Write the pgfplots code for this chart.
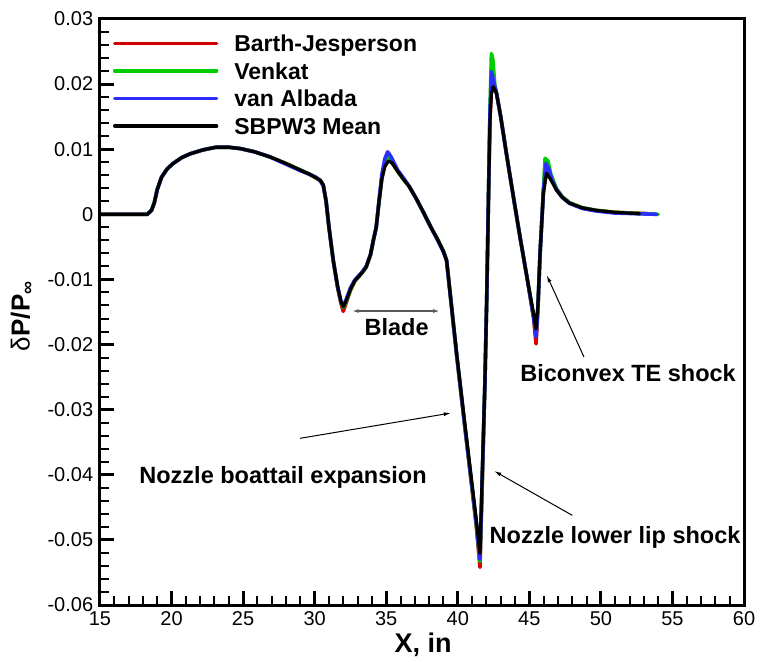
\documentclass[border=0pt]{standalone}
\usepackage{fontspec}
\setmainfont{Liberation Sans}
\usepackage{pgfplots}
\pgfplotsset{compat=1.18}
\usetikzlibrary{arrows.meta}
\definecolor{cred}{RGB}{210,0,0}
\definecolor{cgreen}{RGB}{0,205,0}
\definecolor{cblue}{RGB}{45,45,255}

\pgfplotstableread{
x y
15 0
18.3 0
18.6 0.0006
18.8 0.0018
19.0 0.0038
19.3 0.0057
19.7 0.0070
20.1 0.0078
20.7 0.0087
21.3 0.0093
22.2 0.0099
23.1 0.0103
24.0 0.0103
24.8 0.0101
25.8 0.0096
26.9 0.0088
28.0 0.0078
29.0 0.0068
29.6 0.0062
30.1 0.0056
30.4 0.0052
30.6 0.0045
30.8 0.0020
31.0 -0.0020
31.3 -0.0071
31.6 -0.0112
31.85 -0.0138
32.0 -0.0149
32.2 -0.0136
32.5 -0.0117
32.8 -0.0103
33.3 -0.0090
33.6 -0.0081
33.9 -0.0062
34.1 -0.0040
34.3 -0.0020
34.5 0.0020
34.7 0.0056
34.9 0.0075
35.15 0.0085
35.4 0.0080
35.8 0.0066
36.2 0.0054
36.6 0.0043
37.1 0.0024
37.6 0.0003
38.1 -0.0019
38.6 -0.0039
39.0 -0.0057
39.22 -0.0071
39.92 -0.0216
40.5 -0.0328
41.3 -0.0480
41.55 -0.0542
41.9 -0.0255
42.02 -0.0132
42.15 0.0030
42.25 0.0150
42.35 0.0195
42.45 0.0206
42.7 0.0187
43.0 0.0150
43.4 0.0093
43.9 0.0025
44.35 -0.0035
44.9 -0.0105
45.3 -0.0160
45.47 -0.0199
45.6 -0.0145
45.75 -0.0060
45.98 0.0034
46.2 0.0071
46.45 0.0058
46.9 0.0039
47.3 0.0027
47.8 0.0018
48.7 0.0010
49.7 0.0006
51.0 0.0003
53.3 0.0001
}\redtab

\pgfplotstableread{
x y
15 0
18.3 0
18.6 0.0007
18.8 0.0019
19.0 0.0039
19.3 0.0057
19.7 0.0070
20.1 0.0078
20.7 0.0087
21.3 0.0093
22.2 0.0099
23.1 0.0103
24.0 0.0103
24.8 0.0101
25.8 0.0096
26.9 0.0088
28.0 0.0078
29.0 0.0068
29.6 0.0062
30.1 0.0056
30.4 0.0052
30.6 0.0045
30.8 0.0020
31.0 -0.0020
31.3 -0.0071
31.6 -0.0111
31.85 -0.0136
32.0 -0.0143
32.2 -0.0134
32.5 -0.0116
32.8 -0.0102
33.3 -0.0090
33.6 -0.0081
33.9 -0.0062
34.1 -0.0040
34.3 -0.0020
34.5 0.0021
34.7 0.0058
34.9 0.0078
35.15 0.0088
35.4 0.0081
35.8 0.0066
36.2 0.0054
36.6 0.0043
37.1 0.0024
37.6 0.0003
38.1 -0.0019
38.6 -0.0039
39.0 -0.0057
39.22 -0.0071
39.92 -0.0215
40.5 -0.0326
41.3 -0.0477
41.55 -0.0533
41.9 -0.0255
42.02 -0.0132
42.15 0.0035
42.25 0.0160
42.35 0.0247
42.45 0.0238
42.6 0.0195
42.7 0.0187
43.0 0.0150
43.4 0.0093
43.9 0.0025
44.35 -0.0035
44.9 -0.0105
45.3 -0.0157
45.47 -0.0182
45.6 -0.0143
45.75 -0.0060
45.98 0.0036
46.1 0.0086
46.3 0.0082
46.5 0.0062
46.9 0.0039
47.3 0.0027
47.8 0.0018
48.7 0.0010
49.7 0.0006
51.0 0.0003
54.0 0.0000
}\greentab

\pgfplotstableread{
x y
15 0
18.3 0
18.6 0.0006
18.8 0.0018
19.0 0.0038
19.3 0.0057
19.7 0.0070
20.1 0.0078
20.7 0.0087
21.3 0.0093
22.2 0.0099
23.1 0.0103
24.0 0.0103
24.8 0.0101
25.8 0.0096
26.5 0.0091
26.9 0.0088
28.0 0.0077
29.0 0.0067
29.6 0.0062
30.1 0.0057
30.4 0.0051
30.6 0.0044
30.8 0.0020
31.0 -0.0020
31.3 -0.0071
31.6 -0.0111
31.85 -0.0135
32.0 -0.0140
32.2 -0.0131
32.5 -0.0113
32.8 -0.0101
33.3 -0.0089
33.6 -0.0080
33.9 -0.0062
34.1 -0.0040
34.3 -0.0020
34.5 0.0022
34.7 0.0062
34.9 0.0085
35.1 0.0096
35.35 0.0088
35.8 0.0068
36.2 0.0056
36.6 0.0043
37.1 0.0024
37.6 0.0003
38.1 -0.0019
38.6 -0.0040
39.0 -0.0058
39.22 -0.0071
39.92 -0.0215
40.5 -0.0326
41.3 -0.0475
41.55 -0.0530
41.9 -0.0255
42.02 -0.0132
42.15 0.0033
42.25 0.0155
42.35 0.0219
42.5 0.0205
42.7 0.0187
43.0 0.0150
43.4 0.0093
43.9 0.0025
44.35 -0.0035
44.9 -0.0105
45.3 -0.0158
45.47 -0.0188
45.6 -0.0144
45.75 -0.0060
45.98 0.0035
46.15 0.0078
46.35 0.0070
46.6 0.0052
46.9 0.0038
47.3 0.0026
47.8 0.0017
48.7 0.0009
49.7 0.0005
51.0 0.0002
53.9 0.0000
}\bluetab

\pgfplotstableread{
x y
15 0
18.3 0
18.6 0.0006
18.8 0.0018
19.0 0.0038
19.3 0.0057
19.7 0.0070
20.1 0.0078
20.7 0.0087
21.3 0.0093
22.2 0.0099
23.1 0.0103
24.0 0.0103
24.8 0.0101
25.8 0.0096
26.9 0.0088
28.0 0.0078
29.0 0.0068
29.6 0.0062
30.1 0.0056
30.4 0.0052
30.6 0.0045
30.8 0.0020
31.0 -0.0020
31.3 -0.0071
31.6 -0.0110
31.85 -0.0135
32.0 -0.0142
32.2 -0.0133
32.5 -0.0115
32.8 -0.0102
33.3 -0.0090
33.6 -0.0081
33.9 -0.0062
34.1 -0.0040
34.3 -0.0020
34.5 0.0020
34.7 0.0055
34.9 0.0073
35.15 0.0082
35.4 0.0079
35.8 0.0066
36.2 0.0054
36.6 0.0043
37.1 0.0024
37.6 0.0003
38.1 -0.0019
38.6 -0.0039
39.0 -0.0057
39.22 -0.0071
39.92 -0.0214
40.5 -0.0323
41.3 -0.0470
41.55 -0.0521
41.9 -0.0255
42.02 -0.0132
42.15 0.0030
42.25 0.0144
42.35 0.0185
42.48 0.0196
42.7 0.0186
43.0 0.0150
43.4 0.0093
43.9 0.0025
44.35 -0.0035
44.9 -0.0105
45.3 -0.0153
45.47 -0.0176
45.6 -0.0140
45.75 -0.0060
45.98 0.0032
46.2 0.0063
46.45 0.0055
46.9 0.0037
47.3 0.0026
47.8 0.0017
48.7 0.0010
49.7 0.0006
51.0 0.0003
52.7 0.0001
}\blacktab

\begin{document}
\begin{tikzpicture}
\useasboundingbox (-100pt,-56pt) rectangle (662pt,605pt);
\begin{axis}[
  at={(0pt,0pt)}, anchor=south west,
  scale only axis, width=644pt, height=586pt,
  xmin=15, xmax=60, ymin=-0.06, ymax=0.03,
  axis on top,
  scaled y ticks=false,
  every axis/.append style={line width=3pt},
  axis line style={line width=3pt},
  xtick pos=bottom, ytick pos=left,
  tick align=inside,
  xtick={15,20,...,60},
  xticklabels={15,20,25,30,35,40,45,50,55,60},
  ytick={-0.06,-0.05,-0.04,-0.03,-0.02,-0.01,0,0.01,0.02,0.03},
  yticklabels={-0.06,-0.05,-0.04,-0.03,-0.02,-0.01,0,0.01,0.02,0.03},
  minor x tick num=4, minor y tick num=4,
  major tick length=14pt, minor tick length=9pt,
  major tick style={line width=3pt, black},
  minor tick style={line width=2pt, black},
  xticklabel style={font=\fontsize{20}{20}\selectfont, yshift=-1.5pt},
  yticklabel style={font=\fontsize{20}{20}\selectfont, xshift=-2pt},
  xlabel={X, in},
  ylabel={{\mdseries δ}P/P\textsubscript{∞}},
  xlabel style={font=\fontsize{27}{27}\selectfont\bfseries, at={(axis description cs:0.5016,-0.0683)}, anchor=center, inner sep=0pt},
  ylabel style={font=\fontsize{26}{26}\selectfont\bfseries, at={(axis description cs:-0.1211,0.493)}, anchor=center, inner sep=0pt},
  legend style={at={(axis description cs:0.0202,0.9732)}, anchor=north west, draw=none, fill=none,
    inner sep=0pt, outer sep=0pt, font=\fontsize{23}{27}\selectfont\bfseries, row sep=5.5pt,
    nodes={inner sep=0pt, text height=17pt, text depth=5pt},
    /tikz/every odd column/.append style={column sep=16pt}},
  legend cell align=left,
  legend image code/.code={\draw[#1, line width=3.3pt] (0pt,2.3pt) -- (102pt,2.3pt);},
  every axis plot/.append style={line join=round, line cap=round},
]
\addplot[cred, line width=3.6pt] table {\redtab};
\addlegendentry{Barth-Jesperson}
\addplot[cgreen, line width=3.6pt] table {\greentab};
\addlegendentry{Venkat}
\addplot[cblue, line width=3.6pt] table {\bluetab};
\addlegendentry{van Albada}
\addplot[black, line width=3.2pt] table {\blacktab};
\addlegendentry{SBPW3 Mean}

\draw[gray!70!black, line width=1.5pt, {Latex[length=7pt,width=4pt]}-{Latex[length=7pt,width=4pt]}] (axis cs:32.59,-0.01485) -- (axis cs:38.76,-0.01485);
\node[font=\fontsize{23.5}{23.5}\selectfont\bfseries, anchor=base, inner sep=0pt] at (axis cs:35.73,-0.01858) {Blade};

\draw[black, line width=1pt, -{Latex[length=7pt,width=4pt]}] (axis cs:48.82,-0.02192) -- (axis cs:46.22,-0.00937);
\node[font=\fontsize{23.5}{23.5}\selectfont\bfseries, anchor=base, inner sep=0pt] at (axis cs:51.90,-0.02565) {Biconvex TE shock};

\draw[black, line width=1pt, -{Latex[length=7pt,width=4pt]}] (axis cs:28.98,-0.0344) -- (axis cs:39.51,-0.03052);
\node[font=\fontsize{23.5}{23.5}\selectfont\bfseries, anchor=base, inner sep=0pt] at (axis cs:27.79,-0.04131) {Nozzle boattail expansion};

\draw[black, line width=1pt, -{Latex[length=7pt,width=4pt]}] (axis cs:48.0,-0.04623) -- (axis cs:42.55,-0.03943);
\node[font=\fontsize{23.5}{23.5}\selectfont\bfseries, anchor=base, inner sep=0pt] at (axis cs:50.99,-0.05058) {Nozzle lower lip shock};
\end{axis}
\end{tikzpicture}
\end{document}
